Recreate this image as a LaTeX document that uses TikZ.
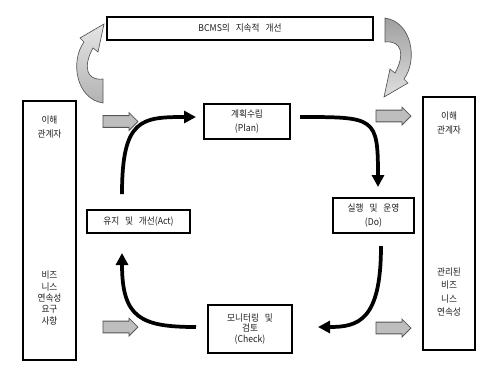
\documentclass[tikz,border=0pt]{standalone}
\usepackage{fontspec}
\setmainfont[FakeStretch=0.93,WordSpace=3]{Noto Sans CJK KR}
\usepackage{tikz}
\usetikzlibrary{arrows.meta,calc,positioning,shapes.arrows}
\definecolor{BoxText}{RGB}{30,30,30}
\definecolor{ArrowFill}{RGB}{190,190,190}
\definecolor{ArrowEdge}{RGB}{85,85,85}

\begin{document}
\begin{tikzpicture}[x=0.75pt,y=-0.75pt,>=Latex,
    box/.style={draw,line width=1.5pt,inner sep=1pt,align=center,text=BoxText,font=\fontsize{7}{10}\selectfont},
    boxtext/.style={align=center,text=BoxText,inner sep=0pt,font=\fontsize{7}{10}\selectfont},
    grayarrow/.style={single arrow,draw=ArrowEdge,fill=ArrowFill,line width=0.6pt,inner xsep=0pt,inner ysep=4.1pt,
      minimum height=26.25pt,single arrow head extend=2.25pt},
    flow/.style={line width=2.8pt,-{Triangle[length=9pt,width=9pt]}},
    bendarrow/.style={draw=ArrowEdge,line width=0.5pt}]
  \useasboundingbox (0,0) rectangle (497,380);
  \node[box,minimum width=199.5pt,minimum height=17.25pt] (improve) at (240,28.5) {BCMS의 지속적 개선};
  \node[box,minimum width=39.75pt,minimum height=194.25pt] (inputs) at (49.5,230.5) {};
  \node[box,minimum width=39pt,minimum height=189.75pt] (outputs) at (449,223.5) {};
  \node[boxtext] (inTop) at (49.5,127) {이해\\관계자};
  \node[boxtext,font=\fontsize{7}{8.6}\selectfont] (inBottom) at (49.5,298) {비즈\\니스\\연속성\\요구\\사항};
  \node[boxtext,font=\fontsize{7}{11}\selectfont] (outTop) at (449,123) {이해\\관계자};
  \node[boxtext,font=\fontsize{7}{9.8}\selectfont] (outBottom) at (449,292) {관리된\\비즈\\니스\\연속성};
  \node[box,minimum width=64.5pt,minimum height=26.25pt,font=\fontsize{7}{10.8}\selectfont] (plan) at (247,121.5) {계획수립\\(Plan)};
  \node[box,minimum width=60.75pt,minimum height=26.25pt,font=\fontsize{7}{10.8}\selectfont] (do) at (373.5,215.5) {실행 및 운영\\(Do)};
  \node[box,minimum width=63pt,minimum height=36pt,font=\fontsize{7}{8}\selectfont] (check) at (250,329) {모니터링 및\\검토\\(Check)};
  \node[box,minimum width=77.25pt,minimum height=17.25pt] (act) at (138.5,221.5) {유지 및 개선(Act)};
  \node[grayarrow] (inArrowTop) at (117.5,121.5) {};
  \node[grayarrow] (inArrowBottom) at (117.5,327) {};
  \node[grayarrow] (outArrowTop) at (390.5,116) {};
  \node[grayarrow] (outArrowBottom) at (390.5,328) {};
  \draw[flow] ($(act.north)+(-16.5,-15)$) .. controls +(0,-75) and +(-55,0) .. ($(plan.west)+(-7,-4.5)$);
  \draw[flow] ($(plan.east)+(9,-4.5)$) .. controls +(75,0) and +(0,-70) .. ($(do.north)+(4.5,-10)$);
  \draw[flow] ($(do.south)+(7.5,12)$) .. controls +(0,75) and +(40,0) .. ($(check.east)+(25,-2)$);
  \draw[flow] ($(check.west)+(-11,-2)$) .. controls +(-55,0) and +(0,65) .. ($(act.south)+(-16.5,19)$);
  \shade[bendarrow,top color=gray!75,bottom color=gray!25,shift={(385,18)}]
    (0,0) .. controls (27,4) and (33,42) .. (19,61) -- (23,65) -- (-1,79) -- (5,51) -- (10,55)
    .. controls (20,37) and (17,22) .. (0,24) -- cycle;
  \shade[bendarrow,top color=gray!20,bottom color=gray!60,shift={(103,103)},rotate=180]
    (0,0) .. controls (27,4) and (33,42) .. (19,61) -- (23,65) -- (-1,79) -- (5,51) -- (10,55)
    .. controls (20,37) and (17,22) .. (0,24) -- cycle;
\end{tikzpicture}
\end{document}
